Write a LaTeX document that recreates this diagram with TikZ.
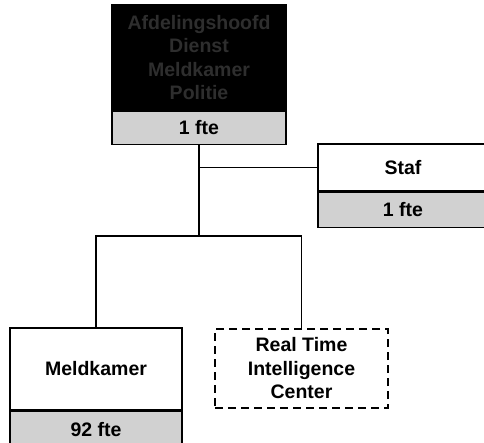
\documentclass[tikz,border=0pt]{standalone}
\usepackage{fontspec}
\setmainfont{Liberation Sans}
\usetikzlibrary{positioning}
\begin{document}
\begin{tikzpicture}[x=1pt,y=-1pt,line width=1.9pt,
        every node/.style={inner sep=0pt,align=center,font=\bfseries\fontsize{19.5}{23.5}\selectfont},
        headbox/.style={draw,line width=1.5pt,fill=white,minimum width=172pt},
        ftebox/.style={draw,line width=1.5pt,fill=black!18,minimum width=172pt,minimum height=34pt},
        plannedbox/.style={draw,line width=1.6pt,dash pattern=on 8pt off 5pt,minimum width=173pt,minimum height=79pt}]
        \useasboundingbox (0,0) rectangle (484,443);

        % Afdelingshoofd
        \node[headbox,fill=black,text=black!82,minimum width=174pt,minimum height=105pt] (chef) at (199,57.5)
            {Afdelingshoofd\\Dienst\\Meldkamer\\Politie};
        \node[ftebox,minimum width=174pt,minimum height=33pt,below=0pt of chef] (cheffte) {1 fte};

        % Staf
        \node[headbox,minimum width=170pt,minimum height=47pt] (staf) at (403,167.5) {Staf};
        \node[ftebox,minimum width=170pt,minimum height=35pt,below=0pt of staf] (staffte) {1 fte};

        % Meldkamer
        \node[headbox,minimum height=82pt] (meld) at (96,369) {Meldkamer};
        \node[ftebox,minimum height=36pt,below=0pt of meld] (meldfte) {92 fte};

        % RTIC
        \node[plannedbox] (rtic) at (301.5,368.5) {Real Time\\Intelligence\\Center};

        \coordinate (split) at (199,236);
        \draw (cheffte.south) |- (staf.west);
        \draw (cheffte.south) -- (split);
        \draw (meld.north) |- (split) -| (rtic.north);
    \end{tikzpicture}
\end{document}
